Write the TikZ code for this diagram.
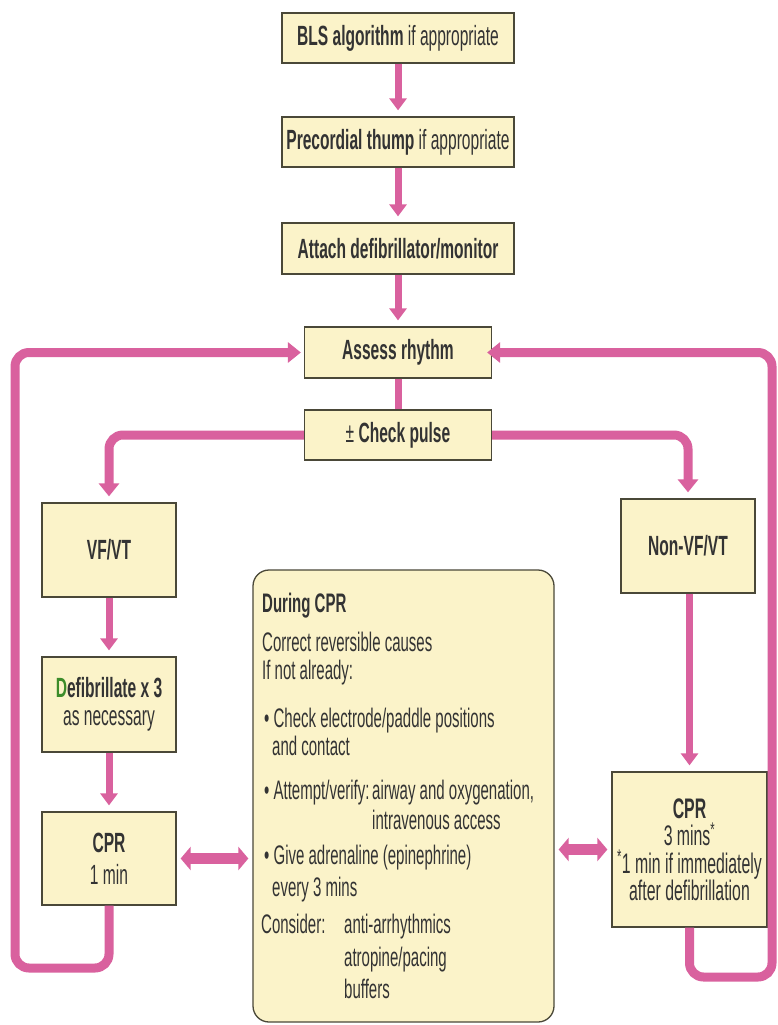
\documentclass[tikz,border=0pt]{standalone}
\usepackage{fontspec}
\setmainfont{Liberation Sans}[FakeStretch=0.56]
\usetikzlibrary{arrows.meta}
\definecolor{pinkc}{HTML}{D9619E}
\definecolor{boxfill}{HTML}{FBF3C9}
\definecolor{boxline}{HTML}{4A4838}
\definecolor{txt}{HTML}{333333}
\definecolor{dgreen}{HTML}{3C8C2A}
\begin{document}
\begin{tikzpicture}[x=1pt,y=-1pt,
  box/.style={draw=boxline, fill=boxfill, line width=1.3pt, inner sep=0pt, align=center, text=txt, font=\fontsize{27.8}{28.5}\selectfont},
  ctext/.style={inner sep=0pt, anchor=base west, text=txt, font=\fontsize{26.8}{28}\selectfont},
  flow/.style={draw=pinkc, line width=7pt, shorten >=6pt, -{Triangle[width=17pt,length=12pt]}},
  plain/.style={draw=pinkc, line width=7pt},
  loopline/.style={draw=pinkc, line width=9pt, rounded corners=14pt, shorten >=5pt, -{Triangle[width=20pt,length=13pt]}},
  dbl/.style={draw=pinkc, line width=11pt, shorten >=4pt, shorten <=4pt, {Triangle[width=23pt,length=10pt]}-{Triangle[width=23pt,length=10pt]}}]
\useasboundingbox (0,0) rectangle (778,1025);
\fill[white] (0,0) rectangle (778,1025);

% top chain
\node[box, minimum width=232pt, minimum height=50pt] (bls) at (398,38) {\textbf{BLS algorithm} if appropriate};
\node[box, minimum width=232pt, minimum height=50pt] (pre) at (398,142) {\textbf{Precordial thump} if appropriate};
\node[box, minimum width=232pt, minimum height=51pt] (att) at (398,248.5) {\textbf{Attach defibrillator/monitor}};
\node[box, minimum width=187pt, minimum height=51pt] (assess) at (398,352.5) {\textbf{Assess rhythm}};
\node[box, minimum width=187pt, minimum height=50pt] (check) at (398,435) {± \textbf{Check pulse}};

% left column
\node[box, minimum width=134pt, minimum height=94pt] (vfvt) at (109,550) {\textbf{VF/VT}};
\node[box, minimum width=134pt, minimum height=95pt] (defib) at (109,704.5) {\textbf{{\color{dgreen}D}efibrillate x 3}\\as necessary};
\node[box, minimum width=134pt, minimum height=93pt, font=\fontsize{27.8}{32}\selectfont] (cpr1) at (109,858.5) {\textbf{CPR}\\1 min};

% right column
\node[box, minimum width=134pt, minimum height=94pt] (nonvf) at (688,546) {\textbf{Non-VF/VT}};
\node[box, minimum width=155pt, minimum height=155pt, font=\fontsize{28.3}{27.5}\selectfont] (cpr3) at (689.5,849.5) {\textbf{CPR}\\3 mins\textsuperscript{*}\\\textsuperscript{*}1 min if immediately\\after defibrillation};

% centre box
\node[box, rounded corners=16pt, minimum width=301pt, minimum height=452pt] (during) at (403.5,796) {};
\node[ctext] (c1) at (262,612) {\textbf{During CPR}};
\node[ctext] (c2) at (262,651) {Correct reversible causes};
\node[ctext] (c3) at (262,679) {If not already:};
\node[ctext] (c4) at (264,727) {• Check electrode/paddle positions};
\node[ctext] (c5) at (272,755) {and contact};
\node[ctext] (c6) at (264,799) {• Attempt/verify:};
\node[ctext] (c6b) at (372,799) {airway and oxygenation,};
\node[ctext] (c7) at (372,829) {intravenous access};
\node[ctext] (c8) at (264,864) {• Give adrenaline (epinephrine)};
\node[ctext] (c9) at (272,896) {every 3 mins};
\node[ctext] (c10) at (261,933) {Consider:};
\node[ctext] (c11) at (344,933) {anti-arrhythmics};
\node[ctext] (c12) at (344,966) {atropine/pacing};
\node[ctext] (c13) at (344,998) {buffers};

% loop corners
\coordinate (lb) at (15,968);
\coordinate (rb) at (772,977);

% connectors
\draw[flow] (bls.south) -- (pre.north);
\draw[flow] (pre.south) -- (att.north);
\draw[flow] (att.south) -- (assess.north);
\draw[plain] (assess.south) -- (check.north);
\draw[loopline, shorten >=6pt] (check.west) -| (vfvt.north);
\draw[loopline, shorten >=6pt] (check.east) -| (nonvf.north);
\draw[flow] (vfvt.south) -- (defib.north);
\draw[flow] (defib.south) -- (cpr1.north);
\draw[flow] (nonvf.south -| cpr3.north) -- (cpr3.north);
\draw[loopline, shorten >=3pt] (cpr1.south) |- (lb) |- (assess.west);
\draw[loopline, shorten >=-5pt] (cpr3.south) |- (rb) |- (assess.east);
\draw[dbl] (cpr1.east) -- (during.west |- cpr1.east);
\draw[dbl] (during.east |- cpr3.west) -- (cpr3.west);
\end{tikzpicture}
\end{document}
